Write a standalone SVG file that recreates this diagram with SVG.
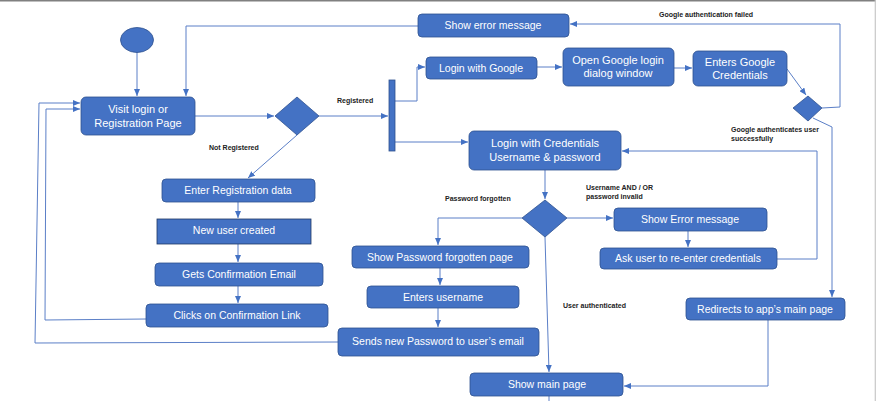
<svg xmlns="http://www.w3.org/2000/svg" width="876" height="401" viewBox="0 0 876 401">
<style>
.n{fill:#4472C4;stroke:#2F528F;stroke-width:0.8}
.t{font-family:"Liberation Sans",Arial,sans-serif;font-size:10.5px;fill:#fff;text-anchor:middle}
.tb{font-size:11px}
.c{fill:none;stroke:#5B7FC7;stroke-width:1}
.l{font-family:"Liberation Sans",Arial,sans-serif;font-size:7px;font-weight:bold;fill:#222}
</style>
<defs>
<marker id="a" markerWidth="8" markerHeight="6" refX="7" refY="3" orient="auto" markerUnits="userSpaceOnUse">
<path d="M0,0 L7,3 L0,6 z" fill="#4472C4"/>
</marker>
</defs>
<rect x="0" y="0" width="876" height="401" fill="#fff"/>
<line x1="0" y1="0.8" x2="876" y2="0.8" stroke="#808080" stroke-width="1.6"/>
<line x1="875.3" y1="0" x2="875.3" y2="401" stroke="#c8c8c8" stroke-width="1.2"/>

<g id="connectors">
<path class="c" d="M137,52 L137,96" marker-end="url(#a)"/>
<path class="c" d="M195,116 L274,116" marker-end="url(#a)"/>
<path class="c" d="M319,116 L388,116" marker-end="url(#a)"/>
<path class="c" d="M395,101 L417,101 L417,67 L425,67" marker-end="url(#a)"/>
<path class="c" d="M395,142 L468,142" marker-end="url(#a)"/>
<path class="c" d="M537,67 L562,67" marker-end="url(#a)"/>
<path class="c" d="M674,68 L692,68" marker-end="url(#a)"/>
<path class="c" d="M787,69 L806,95" marker-end="url(#a)"/>
<path class="c" d="M822,108 L840,107 L840,24 L570,24" marker-end="url(#a)"/>
<path class="c" d="M418,26 L186,26 L186,96" marker-end="url(#a)"/>
<path class="c" d="M813,118 L832,127 L832,297" marker-end="url(#a)"/>
<path class="c" d="M545,170 L545,199" marker-end="url(#a)"/>
<path class="c" d="M522,218 L438,218 L438,245" marker-end="url(#a)"/>
<path class="c" d="M440,268 L440,285" marker-end="url(#a)"/>
<path class="c" d="M438,308 L438,327" marker-end="url(#a)"/>
<path class="c" d="M338,342 L35,343 L39,103 L80,103" marker-end="url(#a)"/>
<path class="c" d="M146,319 L45,320 L46,109 L80,109" marker-end="url(#a)"/>
<path class="c" d="M297,135 L248,178" marker-end="url(#a)"/>
<path class="c" d="M238,202 L238,218" marker-end="url(#a)"/>
<path class="c" d="M238,244 L238,262" marker-end="url(#a)"/>
<path class="c" d="M238,286 L238,303" marker-end="url(#a)"/>
<path class="c" d="M567,218 L613,218" marker-end="url(#a)"/>
<path class="c" d="M688,231 L688,247" marker-end="url(#a)"/>
<path class="c" d="M777,259 L817,259 L817,151 L622,151" marker-end="url(#a)"/>
<path class="c" d="M545,237 L549,372" marker-end="url(#a)"/>
<path class="c" d="M768,320 L768,386 L624,386" marker-end="url(#a)"/>
<path class="c" d="M549,396 L549,401"/>
</g>

<g id="labels">
<text class="l" x="337" y="103">Registered</text>
<text class="l" x="209" y="150">Not Registered</text>
<text class="l" x="659" y="17">Google authentication failed</text>
<text class="l" x="731" y="132">Google authenticates user</text>
<text class="l" x="731" y="141">successfully</text>
<text class="l" x="445" y="201">Password forgotten</text>
<text class="l" x="586" y="190">Username AND / OR</text>
<text class="l" x="586" y="199">password invalid</text>
<text class="l" x="563" y="308">User authenticated</text>
</g>

<g id="start"><ellipse class="n" cx="137" cy="40" rx="16.5" ry="12.5"/></g>
<g id="visit"><rect class="n" x="81" y="97" width="114" height="38" rx="5"/>
<text class="t tb" x="138" y="113">Visit login or</text><text class="t tb" x="138" y="127">Registration Page</text></g>
<g id="dec1"><polygon class="n" points="275,116 297,97 319,116 297,135"/></g>
<g id="fork"><rect class="n" x="389" y="80" width="6" height="71"/></g>
<g id="loginGoogle"><rect class="n" x="426" y="57" width="111" height="22" rx="4"/>
<text class="t" x="481" y="72">Login with Google</text></g>
<g id="showError"><rect class="n" x="418" y="14" width="151" height="23" rx="4"/>
<text class="t" x="493" y="29">Show error message</text></g>
<g id="openGoogle"><rect class="n" x="563" y="48" width="111" height="38" rx="5"/>
<text class="t tb" x="618" y="64">Open Google login</text><text class="t tb" x="618" y="77">dialog window</text></g>
<g id="entersGoogle"><rect class="n" x="693" y="51" width="94" height="35" rx="5"/>
<text class="t tb" x="740" y="66">Enters Google</text><text class="t tb" x="740" y="79">Credentials</text></g>
<g id="dec2"><polygon class="n" points="793,108 808,96 822,108 808,121"/></g>
<g id="loginCred"><rect class="n" x="469" y="131" width="152" height="39" rx="5"/>
<text class="t tb" x="545" y="147">Login with Credentials</text><text class="t tb" x="545" y="161">Username &amp; password</text></g>
<g id="dec3"><polygon class="n" points="522,218 545,200 567,218 545,237"/></g>
<g id="showError2"><rect class="n" x="614" y="208" width="153" height="23" rx="4"/>
<text class="t" x="690" y="223">Show Error message</text></g>
<g id="askUser"><rect class="n" x="600" y="248" width="177" height="21" rx="4"/>
<text class="t" x="688" y="262">Ask user to re-enter credentials</text></g>
<g id="redirects"><rect class="n" x="686" y="298" width="159" height="22" rx="4"/>
<text class="t" x="765" y="313">Redirects to app’s main page</text></g>
<g id="pwdForgot"><rect class="n" x="352" y="246" width="177" height="22" rx="4"/>
<text class="t" x="440" y="261">Show Password forgotten page</text></g>
<g id="entersUser"><rect class="n" x="367" y="286" width="152" height="22" rx="4"/>
<text class="t" x="443" y="301">Enters username</text></g>
<g id="sends"><rect class="n" x="338" y="328" width="201" height="28" rx="4"/>
<text class="t" x="438" y="345">Sends new Password to user’s email</text></g>
<g id="mainPage"><rect class="n" x="470" y="373" width="153" height="23" rx="4"/>
<text class="t" x="547" y="388">Show main page</text></g>
<g id="enterReg"><rect class="n" x="162" y="179" width="153" height="23" rx="4"/>
<text class="t" x="238" y="194">Enter Registration data</text></g>
<g id="newUser"><rect class="n" x="157" y="219" width="154" height="25" style="stroke:#1F3864"/>
<text class="t" x="234" y="234">New user created</text></g>
<g id="gets"><rect class="n" x="155" y="263" width="168" height="23" rx="4"/>
<text class="t" x="239" y="278">Gets Confirmation Email</text></g>
<g id="clicks"><rect class="n" x="146" y="304" width="182" height="23" rx="4"/>
<text class="t" x="237" y="319">Clicks on Confirmation Link</text></g>
</svg>
